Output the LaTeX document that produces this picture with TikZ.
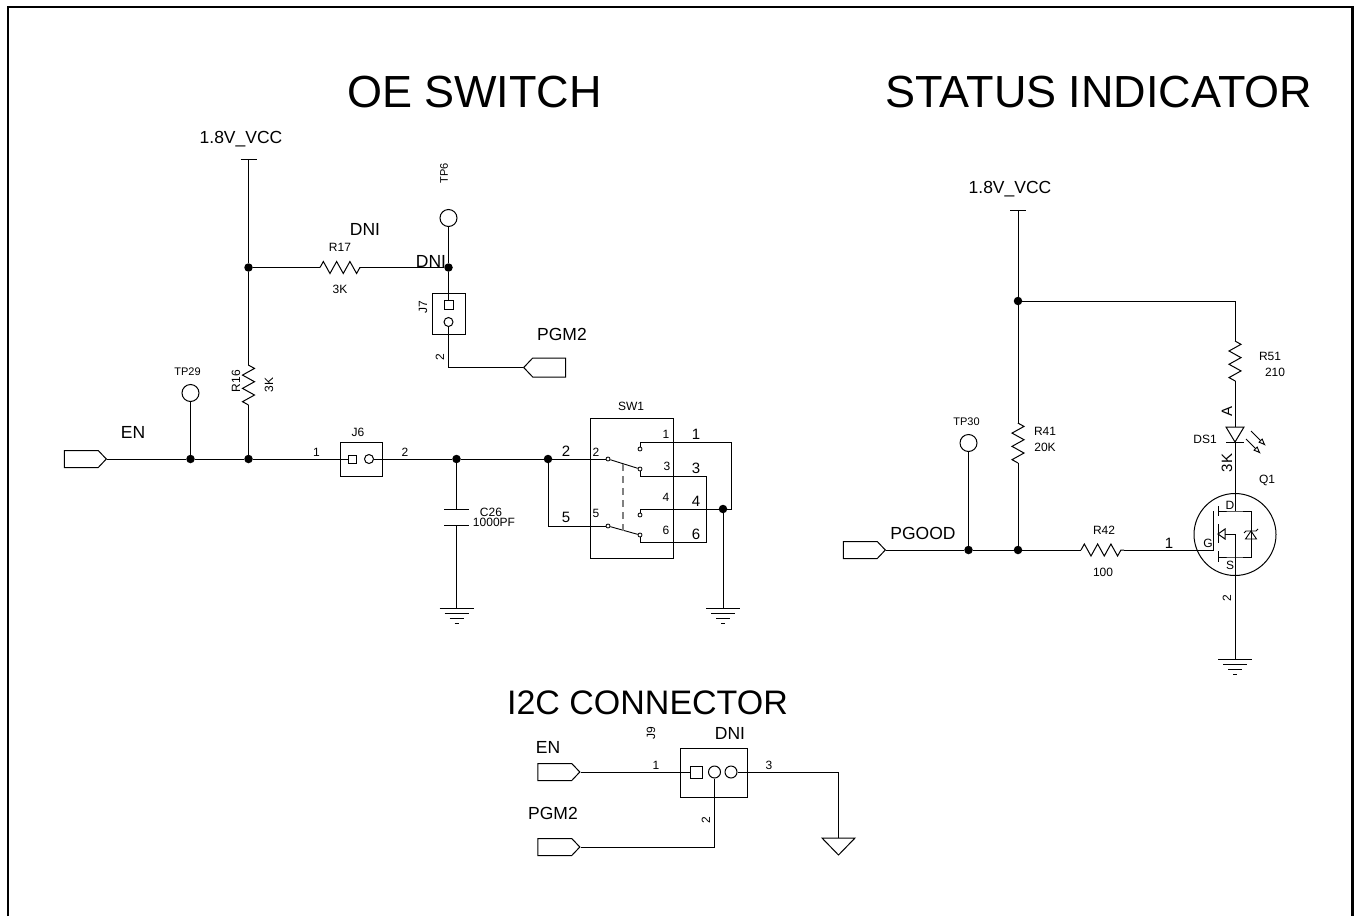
\documentclass[tikz,border=0pt]{standalone}
\usepackage{fontspec}
\setmainfont{Liberation Sans}
\usetikzlibrary{positioning,shapes.symbols,decorations.pathmorphing,arrows.meta}
\tikzstyle{wire} = [draw, line width=1pt]
\tikzstyle{thinwire} = [draw, line width=0.9pt]
\tikzstyle{junction} = [circle, fill=black, inner sep=0pt, minimum size=8.5pt]
\tikzstyle{testpoint} = [draw, circle, fill=white, line width=1pt, inner sep=0pt, minimum size=17pt]
\tikzstyle{portright} = [draw, line width=1pt, shape=signal, signal to=east, signal pointer angle=93, inner sep=0pt, minimum width=42pt, minimum height=17pt, anchor=east]
\tikzstyle{portleft} = [draw, line width=1pt, shape=signal, signal to=west, signal pointer angle=93, inner sep=0pt, minimum width=42pt, minimum height=19pt, anchor=west]
\tikzstyle{header} = [draw, rectangle, line width=1pt, inner sep=0pt]
\tikzstyle{pinsquare} = [draw, rectangle, fill=white, line width=1pt, inner sep=0pt]
\tikzstyle{pinround} = [draw, circle, fill=white, line width=1pt, inner sep=0pt]
\tikzstyle{contact} = [draw, circle, fill=white, line width=0.8pt, inner sep=0pt, minimum size=4pt]
\tikzstyle{resistor} = [draw, line width=1pt, decorate, decoration={zigzag, segment length=13.3pt, amplitude=6pt}]
\tikzstyle{smalltext} = [inner sep=0pt, font=\fontsize{12}{12}\selectfont]
\tikzstyle{tplabel} = [inner sep=0pt, font=\fontsize{11}{11}\selectfont]
\tikzstyle{pinlabel} = [inner sep=0pt, font=\fontsize{12}{12}\selectfont]
\tikzstyle{netlabel} = [inner sep=0pt, font=\fontsize{15}{15}\selectfont]
\tikzstyle{netname} = [inner sep=0pt, font=\fontsize{17.5}{18}\selectfont]
\newcommand{\groundsym}[1]{
	\draw[thinwire] (#1) ++(-17,0) -- ++(34,0);
	\draw[thinwire] (#1) ++(-12,5) -- ++(24,0);
	\draw[thinwire] (#1) ++(-7,10) -- ++(14,0);
	\draw[thinwire] (#1) ++(-2,15) -- ++(4,0);
}
\begin{document}
\begin{tikzpicture}[x=1pt,y=-1pt]
		\useasboundingbox (0,0) rectangle (1354,916);

		% frame
		\draw[line width=2.4pt] (8,916) -- (8,7) -- (1352.5,7) -- (1352.5,916);

		% titles
		\node[inner sep=0pt, font=\fontsize{45}{47}\selectfont] (oetitle) at (474.5,92) {OE SWITCH};
		\node[inner sep=0pt, font=\fontsize{45}{47}\selectfont] (statustitle) at (1099,92) {STATUS INDICATOR};
		\node[inner sep=0pt, font=\fontsize{34}{36}\selectfont] (i2ctitle) at (647.5,703) {I2C CONNECTOR};

		% en net
		\node[portright] (enport) at (107,459) {};
		\node[netname] (enlabel) at (133,432) {EN};
		\node[junction] (tp29j) at (190.5,459) {};
		\node[junction] (r16j) at (248.5,459) {};
		\node[testpoint] (tp29) at (190.5,393) {};
		\node[tplabel] (tp29label) at (187.5,372) {TP29};
		\draw[wire] (enport.east) -- (tp29j) -- (r16j);
		\draw[wire] (tp29j) -- (tp29);

		% r16 and 1.8v
		\node[coordinate] (r16b) at (248.5,405) {};
		\node[coordinate] (r16a) at (248.5,365) {};
		\node[junction] (r17j) at (248.5,267.5) {};
		\node[coordinate] (vcc1) at (248.5,159) {};
		\node[netname] (vcc1label) at (241,139) {1.8V\_VCC};
		\node[smalltext,rotate=90] (r16label) at (236,381) {R16};
		\node[smalltext,rotate=90] (r16value) at (269,385) {3K};
		\draw[wire] (r16j) -- (r16b);
		\draw[resistor] (r16b) -- (r16a);
		\draw[wire] (r16a) -- (r17j) -- (vcc1);
		\draw[wire] (vcc1) ++(-8,0) -- ++(16,0);

		% r17
		\node[coordinate] (r17a) at (320,267.5) {};
		\node[coordinate] (r17b) at (361,267.5) {};
		\node[junction] (tp6j) at (448.5,267.5) {};
		\node[smalltext] (r17label) at (340,247) {R17};
		\node[smalltext] (r17value) at (340,289) {3K};
		\node[netname] (dni1) at (365,229) {DNI};
		\draw[wire] (r17j) -- (r17a);
		\draw[resistor] (r17a) -- (r17b);
		\draw[wire] (r17b) -- (tp6j);
		\node[netname] (dni2) at (431,261) {DNI};

		% tp6 and j7
		\node[testpoint] (tp6) at (448.5,218) {};
		\node[tplabel,rotate=90] (tp6label) at (444,173) {TP6};
		\node[header, minimum width=33pt, minimum height=41pt] (j7) at (448.5,313.5) {};
		\node[pinsquare, minimum size=9pt] (j7pin1) at (448.5,305) {};
		\node[pinround, minimum size=9pt] (j7pin2) at (448.5,322) {};
		\node[smalltext,rotate=90] (j7label) at (423,307) {J7};
		\node[pinlabel,rotate=90] (j7num) at (440,357) {2};
		\node[portleft] (pgmport) at (523,367.5) {};
		\node[netname] (pgmlabel) at (562,334) {PGM2};
		\node[coordinate] (j7corner) at (448.5,367.5) {};
		\draw[wire] (tp6) -- (tp6j) -- (j7pin1);
		\draw[wire] (j7pin2) -- (j7corner) -- (pgmport.west);

		% j6
		\node[header, minimum width=42pt, minimum height=34pt] (j6) at (361,459) {};
		\node[pinsquare, minimum size=8pt] (j6pin1) at (352,459) {};
		\node[pinround, minimum size=9pt] (j6pin2) at (369,459) {};
		\node[smalltext] (j6label) at (358,432) {J6};
		\node[pinlabel] (j6num1) at (316.5,452) {1};
		\node[pinlabel] (j6num2) at (405,452) {2};
		\draw[wire] (r16j) -- (j6pin1);

		% c26
		\node[junction] (c26j) at (456.5,459) {};
		\node[coordinate] (c26a) at (456.5,509) {};
		\node[coordinate] (c26b) at (456.5,525.5) {};
		\node[coordinate] (gnd1) at (456.5,608) {};
		\node[smalltext] (c26label) at (491,512) {C26};
		\node[smalltext] (c26value) at (494,522) {1000PF};
		\draw[wire] (j6pin2) -- (c26j) -- (c26a);
		\draw[wire] (c26b) -- (gnd1);
		\draw[wire] (c26a) ++(-12.5,0) -- ++(25,0);
		\draw[wire] (c26b) ++(-12.5,0) -- ++(25,0);
		\groundsym{gnd1}

		% sw1
		\node[header, minimum width=83pt, minimum height=140pt] (sw1) at (631.5,488) {};
		\node[smalltext] (sw1label) at (631,406) {SW1};
		\node[junction] (sw2j) at (548,459) {};
		\node[coordinate] (sw5corner) at (548,526) {};
		\node[contact] (c2) at (608,459) {};
		\node[contact] (c5) at (608,526) {};
		\node[contact] (c1) at (640,449) {};
		\node[contact] (c3) at (640,469) {};
		\node[contact] (c4) at (640,515) {};
		\node[contact] (c6) at (640,535) {};
		\node[junction] (sw4j) at (723,509) {};
		\node[coordinate] (gnd2) at (723,608) {};
		\draw[wire] (c26j) -- (sw2j) -- (c2);
		\draw[wire] (sw2j) -- (sw5corner) -- (c5);
		\draw[thinwire] (c2) -- (c3);
		\draw[thinwire] (c5) -- (c6);
		\draw[line width=1.2pt, gray, dash pattern=on 7pt off 5pt] (623,464) -- (623,531);
		\draw[wire] (c1) -- (640,442) -- (731,442) -- (731,509) -- (sw4j) -- (640,509) -- (c4);
		\draw[wire] (c3) -- (640,476) -- (706,476) -- (706,542) -- (640,542) -- (c6);
		\draw[wire] (sw4j) -- (gnd2);
		\groundsym{gnd2}
		\node[pinlabel] (in1) at (666,434) {1};
		\node[pinlabel] (in2) at (596,452) {2};
		\node[pinlabel] (in3) at (667,466) {3};
		\node[pinlabel] (in4) at (666,497) {4};
		\node[pinlabel] (in5) at (596,513) {5};
		\node[pinlabel] (in6) at (666,530) {6};
		\node[netlabel] (out1) at (696,434) {1};
		\node[netlabel] (out2) at (566,451) {2};
		\node[netlabel] (out3) at (696,468) {3};
		\node[netlabel] (out4) at (696,501) {4};
		\node[netlabel] (out5) at (566,517) {5};
		\node[netlabel] (out6) at (696,534) {6};

		% pgood net
		\node[portright] (pgoodport) at (886,550) {};
		\node[netname] (pgoodlabel) at (923,533) {PGOOD};
		\node[junction] (tp30j) at (968.5,550) {};
		\node[junction] (r41j) at (1018,550) {};
		\node[testpoint] (tp30) at (968.5,443) {};
		\node[tplabel] (tp30label) at (966.5,422) {TP30};
		\node[coordinate] (r42a) at (1081,550) {};
		\node[coordinate] (r42b) at (1124,550) {};
		\node[smalltext] (r42label) at (1104,530) {R42};
		\node[smalltext] (r42value) at (1103,572) {100};
		\node[netlabel] (r42num) at (1169,543) {1};
		\node[coordinate] (gate) at (1213,550) {};
		\draw[wire] (pgoodport.east) -- (tp30j) -- (r41j) -- (r42a);
		\draw[wire] (tp30j) -- (tp30);
		\draw[resistor] (r42a) -- (r42b);
		\draw[wire] (r42b) -- (gate) -- (1213,511);

		% r41 and 1.8v
		\node[coordinate] (r41b) at (1018,463) {};
		\node[coordinate] (r41a) at (1018,423) {};
		\node[junction] (r51j) at (1018,301) {};
		\node[coordinate] (vcc2) at (1018,210) {};
		\node[netname] (vcc2label) at (1010,189) {1.8V\_VCC};
		\node[smalltext] (r41label) at (1045,431) {R41};
		\node[smalltext] (r41value) at (1045,447) {20K};
		\draw[wire] (r41j) -- (r41b);
		\draw[resistor] (r41b) -- (r41a);
		\draw[wire] (r41a) -- (r51j) -- (vcc2);
		\draw[wire] (vcc2) ++(-8,0) -- ++(16,0);

		% r51 and ds1
		\node[coordinate] (r51top) at (1235,301) {};
		\node[coordinate] (r51a) at (1235,341) {};
		\node[coordinate] (r51b) at (1235,381) {};
		\node[coordinate] (ds1a) at (1235,427) {};
		\node[coordinate] (ds1k) at (1235,442) {};
		\node[smalltext] (r51label) at (1270,356) {R51};
		\node[smalltext] (r51value) at (1275,372) {210};
		\node[netlabel,rotate=90] (ds1pin) at (1227,411) {A};
		\node[smalltext] (ds1label) at (1205,439) {DS1};
		\node[netlabel,rotate=90] (ds1value) at (1227,463) {3K};
		\draw[wire] (r51j) -- (r51top) -- (r51a);
		\draw[resistor] (r51a) -- (r51b);
		\draw[wire] (r51b) -- (ds1a);
		\draw[wire] (1226,427) -- (1244,427) -- (ds1k) -- cycle;
		\draw[wire] (1226,442) -- (1244,442);
		\draw[thinwire, -{Latex[open,length=8pt,width=6pt]}] (1251,431) -- (1266,446);
		\draw[thinwire, -{Latex[open,length=8pt,width=6pt]}] (1246,439) -- (1261,454);

		% q1
		\node[draw, circle, line width=1pt, inner sep=0pt, minimum size=82pt] (q1) at (1235,534.5) {};
		\node[smalltext] (q1label) at (1267,480) {Q1};
		\node[smalltext] (q1d) at (1230,505) {D};
		\node[smalltext] (q1g) at (1208,543) {G};
		\node[smalltext] (q1s) at (1230,565) {S};
		\node[coordinate] (drain) at (1235,511) {};
		\node[coordinate] (source) at (1235,557) {};
		\node[coordinate] (gnd3) at (1235,659) {};
		\node[pinlabel,rotate=90] (q1num) at (1227,598) {2};
		\draw[wire] (ds1k) -- (drain);
		\draw[wire] (1218,511) -- (drain) -- (1251,511) -- (1251,557) -- (source) -- (1218,557);
		\draw[wire] (1218,506) -- (1218,516);
		\draw[wire] (1218,524) -- (1218,543);
		\draw[wire] (1218,551) -- (1218,562);
		\draw[wire] (1218,534) -- (1225,529) -- (1225,539) -- cycle;
		\draw[wire] (1225,534) -- (1235,534) -- (source) -- (gnd3);
		\draw[thinwire] (1251,531) -- (1245.5,539) -- (1256.5,539) -- cycle;
		\draw[thinwire] (1244,533) -- (1246,531) -- (1256,531) -- (1258,529);
		\groundsym{gnd3}

		% j9
		\node[header, minimum width=67pt, minimum height=49pt] (j9) at (713.5,772.5) {};
		\node[pinsquare, minimum size=12pt] (j9pin1) at (696,772) {};
		\node[pinround, minimum size=12pt] (j9pin2) at (714.5,772) {};
		\node[pinround, minimum size=12pt] (j9pin3) at (731,772) {};
		\node[smalltext,rotate=90] (j9label) at (651,733) {J9};
		\node[netname] (dni3) at (730,733) {DNI};
		\node[portright] (enport2) at (580.5,772) {};
		\node[portright] (pgmport2) at (580.5,847) {};
		\node[netname] (en2label) at (548,747) {EN};
		\node[netname] (pgm2label) at (553,813) {PGM2};
		\node[pinlabel] (j9num1) at (656,765) {1};
		\node[pinlabel,rotate=90] (j9num2) at (706,820) {2};
		\node[pinlabel] (j9num3) at (769,765) {3};
		\node[coordinate] (j9corner2) at (714.5,847) {};
		\node[coordinate] (j9corner3) at (838.5,772) {};
		\node[coordinate] (gnd4) at (838.5,838) {};
		\draw[wire] (enport2.east) -- (j9pin1);
		\draw[wire] (pgmport2.east) -- (j9corner2) -- (j9pin2);
		\draw[wire] (j9pin3) -- (j9corner3) -- (gnd4);
		\draw[wire] (822,838) -- (855,838) -- (838.5,855) -- cycle;
\end{tikzpicture}
\end{document}
